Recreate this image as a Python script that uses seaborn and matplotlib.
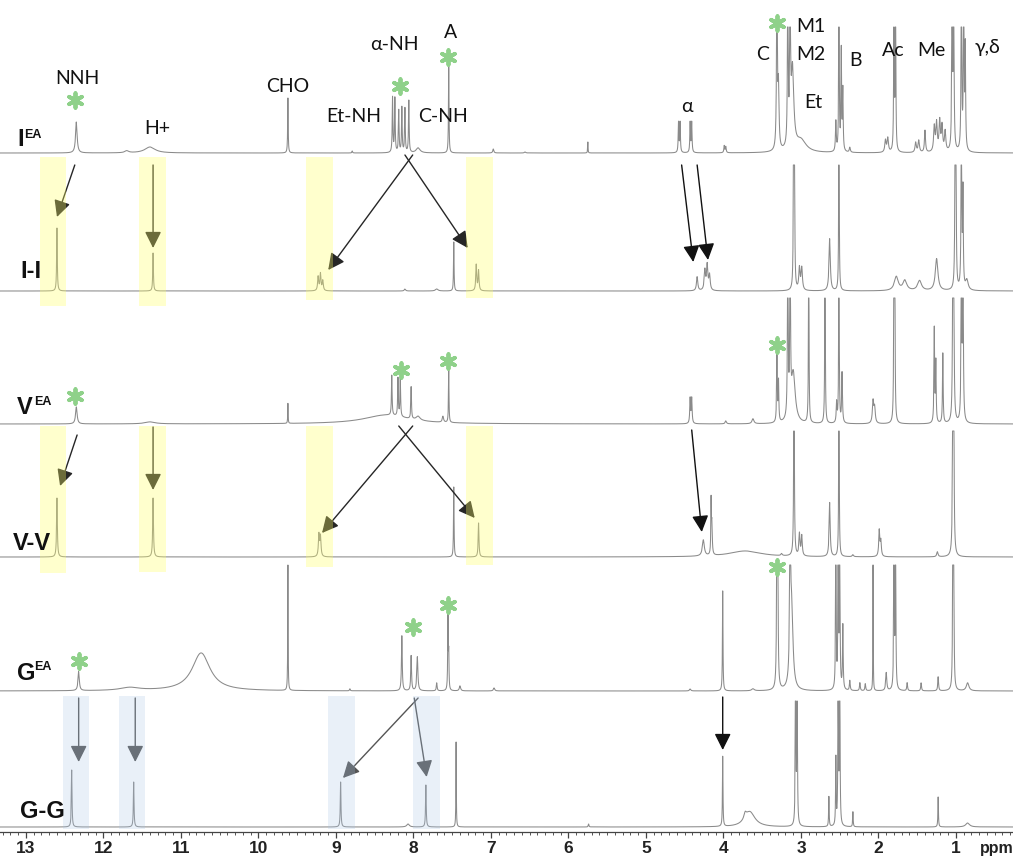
import numpy as np
import pandas as pd
import matplotlib
matplotlib.use("Agg")
import matplotlib.pyplot as plt
import seaborn as sns
from matplotlib.ticker import MultipleLocator, FormatStrFormatter
from matplotlib.patches import Rectangle
from matplotlib import font_manager

# ------------------------------------------------------------------ data
# peak lists: position (ppm), height (px), half width (ppm)
IEA_ppm = [12.35, 11.70, 11.40, 9.62, 8.79, 8.27, 8.24, 8.19, 8.15, 8.11, 8.06, 7.94, 7.545, 6.97, 6.56,
           5.75, 4.58, 4.56, 4.43, 4.41, 3.99, 3.97, 3.31, 3.29, 3.17, 3.14, 3.11, 3.00, 2.55, 2.51,
           2.48, 2.46, 2.37, 1.91, 1.88, 1.80, 1.78, 1.52, 1.48, 1.40, 1.28, 1.25, 1.21, 1.18, 1.14,
           1.05, 1.03, 0.93, 0.90, 0.88]
IEA_h = [31, 2, 6, 55, 2, 55, 54, 42, 45, 44, 52, 5, 90, 4, 1,
         11, 30, 30, 30, 30, 7, 6, 200, 60, 200, 200, 80, 12, 30, 200,
         100, 60, 5, 12, 14, 200, 200, 10, 12, 22, 25, 28, 30, 25, 20,
         200, 200, 200, 200, 100]
IEA_w = [0.012, 0.03, 0.08, 0.004, 0.005, 0.005, 0.005, 0.005, 0.005, 0.005, 0.005, 0.03, 0.004, 0.008, 0.01,
         0.003, 0.005, 0.005, 0.005, 0.005, 0.006, 0.006, 0.006, 0.008, 0.005, 0.005, 0.02, 0.08, 0.006, 0.004,
         0.005, 0.005, 0.008, 0.01, 0.01, 0.004, 0.004, 0.01, 0.01, 0.008, 0.01, 0.01, 0.01, 0.01, 0.01,
         0.005, 0.005, 0.005, 0.005, 0.005]

II_ppm = [12.60, 11.36, 9.23, 9.20, 9.17, 8.11, 7.70, 7.48, 7.19, 7.16, 4.34, 4.24, 4.21, 4.18, 3.095,
          3.085, 3.02, 2.99, 2.63, 2.51, 1.77, 1.66, 1.47, 1.25, 1.01, 1.00, 0.93, 0.91, 0.86]
II_h = [63, 38, 14, 17, 10, 2, 2, 49, 26, 20, 14, 20, 25, 15, 200,
        200, 22, 22, 52, 200, 14, 10, 10, 32, 200, 100, 200, 95, 10]
II_w = [0.005, 0.005, 0.008, 0.008, 0.008, 0.01, 0.02, 0.004, 0.007, 0.007, 0.01, 0.01, 0.01, 0.01, 0.004,
        0.004, 0.01, 0.01, 0.01, 0.004, 0.03, 0.03, 0.03, 0.02, 0.005, 0.005, 0.005, 0.005, 0.02]

VEA_ppm = [12.35, 11.40, 9.62, 8.35, 8.28, 8.20, 8.17, 8.03, 7.94, 7.62, 7.545, 4.43, 4.41, 3.97, 3.62,
           3.31, 3.29, 3.17, 3.14, 3.10, 2.90, 2.69, 2.54, 2.51, 2.47, 2.07, 2.05, 1.80, 1.79, 1.28,
           1.26, 1.17, 1.04, 1.03, 0.93, 0.91]
VEA_h = [17, 2, 20, 9, 40, 38, 38, 32, 4, 6, 52, 25, 25, 3, 5,
         70, 40, 200, 200, 50, 200, 200, 20, 200, 50, 22, 15, 200, 200, 94,
         60, 70, 200, 200, 200, 200]
VEA_w = [0.012, 0.08, 0.003, 0.35, 0.005, 0.005, 0.005, 0.005, 0.03, 0.01, 0.004, 0.006, 0.006, 0.01, 0.015,
         0.005, 0.005, 0.005, 0.005, 0.03, 0.004, 0.004, 0.006, 0.004, 0.006, 0.01, 0.01, 0.004, 0.004, 0.005,
         0.005, 0.005, 0.005, 0.005, 0.005, 0.005]

VV_ppm = [12.60, 11.36, 9.22, 9.20, 7.48, 7.16, 4.26, 4.16, 4.15, 3.72, 3.25, 3.09, 3.02, 2.99, 2.63,
          2.51, 2.33, 1.99, 1.97, 1.24, 1.04, 1.03]
VV_h = [59, 59, 22, 20, 70, 34, 16, 52, 30, 6, 2, 200, 22, 20, 54,
        200, 2, 26, 15, 5, 200, 200]
VV_w = [0.006, 0.006, 0.008, 0.008, 0.004, 0.006, 0.015, 0.004, 0.006, 0.25, 0.01, 0.005, 0.008, 0.008, 0.008,
        0.004, 0.01, 0.008, 0.008, 0.01, 0.005, 0.005]

GEA_ppm = [12.32, 11.66, 10.74, 9.62, 8.82, 8.15, 8.03, 7.95, 7.70, 7.555, 7.545, 7.40, 6.96, 4.43, 4.01,
           3.62, 3.31, 3.30, 3.14, 3.12, 2.55, 2.52, 2.50, 2.46, 2.37, 2.24, 2.17, 2.07, 1.90, 1.80,
           1.78, 1.63, 1.45, 1.23, 1.04, 1.03, 0.85]
GEA_h = [19, 3, 38, 128, 2, 55, 35, 34, 8, 76, 34, 5, 3, 2, 100,
         2, 200, 150, 200, 80, 200, 200, 200, 64, 10, 8, 7, 200, 18, 200,
         200, 8, 8, 14, 200, 200, 8]
GEA_w = [0.01, 0.15, 0.14, 0.003, 0.005, 0.006, 0.006, 0.008, 0.006, 0.004, 0.004, 0.01, 0.01, 0.01, 0.004,
         0.02, 0.005, 0.005, 0.006, 0.02, 0.004, 0.004, 0.004, 0.005, 0.006, 0.006, 0.006, 0.002, 0.008, 0.004,
         0.004, 0.006, 0.006, 0.006, 0.004, 0.004, 0.02]

GG_ppm = [12.41, 11.61, 8.94, 8.07, 7.84, 7.45, 5.74, 4.01, 3.72, 3.66, 3.07, 3.05, 2.64, 2.55, 2.52,
          2.50, 2.33, 1.23, 0.85]
GG_h = [57, 45, 45, 3, 42, 85, 3, 70, 6, 15, 200, 200, 30, 67, 200,
        200, 15, 30, 4]
GG_w = [0.005, 0.005, 0.005, 0.02, 0.005, 0.003, 0.005, 0.004, 0.02, 0.08, 0.004, 0.004, 0.004, 0.004, 0.004,
        0.004, 0.004, 0.004, 0.03]

spectrum_names = ["IEA", "I-I", "VEA", "V-V", "GEA", "G-G"]
peak_tables = {
    "IEA": (IEA_ppm, IEA_h, IEA_w),
    "I-I": (II_ppm, II_h, II_w),
    "VEA": (VEA_ppm, VEA_h, VEA_w),
    "V-V": (VV_ppm, VV_h, VV_w),
    "GEA": (GEA_ppm, GEA_h, GEA_w),
    "G-G": (GG_ppm, GG_h, GG_w),
}
row_labels = [("I", "EA"), ("I-I", ""), ("V", "EA"), ("V-V", ""), ("G", "EA"), ("G-G", "")]

# ------------------------------------------------------------------ layout
W, H = 1013, 856
AXIS_Y = 832                      # pixel row of the ppm axis
baselines = [153, 291, 424, 557, 691, 827]
CLIP = 126                         # vertical cut of every trace
X_LEFT, X_RIGHT = 13.335, 0.2645

sns.set_theme(style="white")
avail = {f.name for f in font_manager.fontManager.ttflist}
label_font = ["Lato", "DejaVu Sans"] if "Lato" in avail else ["Open Sans", "DejaVu Sans"]
tick_font = "Liberation Sans Narrow" if "Liberation Sans Narrow" in avail else "Liberation Sans"
plt.rcParams["font.family"] = label_font

fig = plt.figure(figsize=(W / 100, H / 100), dpi=100)
ax = fig.add_axes([0, (H - AXIS_Y) / H, 1, AXIS_Y / H])

grid = np.arange(X_RIGHT, X_LEFT, 0.0005)
frames = []
for name, base in zip(spectrum_names, baselines):
    p, h, w = (np.asarray(a, float) for a in peak_tables[name])
    inten = (h[None, :] / (1 + ((grid[:, None] - p[None, :]) / w[None, :]) ** 2)).sum(axis=1)
    inten = np.minimum(inten, CLIP)
    frames.append(pd.DataFrame({"ppm": grid, "y": base - inten, "spectrum": name}))
df = pd.concat(frames, ignore_index=True)

sns.lineplot(data=df, x="ppm", y="y", units="spectrum", estimator=None, sort=False,
             color="#8a8a8a", linewidth=0.75, ax=ax, legend=False, zorder=2)

ax.set_xlim(X_LEFT, X_RIGHT)
ax.set_ylim(AXIS_Y, 0)
ax.set_xlabel("")
ax.set_ylabel("")
ax.set_yticks([])
for s in ("top", "left", "right"):
    ax.spines[s].set_visible(False)
ax.spines["bottom"].set_color("#444444")
ax.spines["bottom"].set_linewidth(0.9)
ax.xaxis.set_major_locator(MultipleLocator(1))
ax.xaxis.set_minor_locator(MultipleLocator(0.1))
ax.xaxis.set_major_formatter(FormatStrFormatter("%d"))
ax.tick_params(axis="x", which="major", direction="out", length=4, width=0.9, color="#444444",
               pad=2.5, labelsize=12.5, labelcolor="#222222", bottom=True)
ax.tick_params(axis="x", which="minor", direction="out", length=2.2, width=0.7, color="#555555", bottom=True)
for lab in ax.get_xticklabels():
    lab.set_fontfamily(tick_font)
    lab.set_fontweight("bold")
ax.text(0.69, 849, "ppm", fontsize=11.5, fontfamily=tick_font, fontweight="bold", color="#222222",
        ha="left", va="center", clip_on=False)

# ------------------------------------------------------------------ arrows
def arrow(x0, y0, x1, y1, color):
    ax.annotate("", xy=(x1, y1), xytext=(x0, y0),
                arrowprops=dict(arrowstyle="-|>,head_length=0.5,head_width=0.25", mutation_scale=20,
                                color=color, lw=1.0, shrinkA=0, shrinkB=0), zorder=3)

dark = "#262626"
for a in [(12.37, 165, 12.60, 217), (11.36, 165, 11.36, 248), (8.01, 155, 9.10, 270), (8.11, 155, 7.30, 248),
          (12.34, 435, 12.56, 486), (11.36, 427, 11.36, 490), (8.01, 426, 9.18, 533), (8.19, 426, 7.21, 518)]:
    arrow(*a, dark)
for a in [(4.54, 165, 4.39, 262), (4.34, 165, 4.20, 260), (4.41, 430, 4.28, 532), (4.01, 697, 4.01, 750)]:
    arrow(*a, "#111111")
for a in [(12.32, 698, 12.32, 762), (11.59, 698, 11.59, 762), (7.94, 698, 8.91, 778), (7.99, 698, 7.83, 777)]:
    arrow(*a, "#555555")

# ------------------------------------------------------------------ highlight boxes
yellow_spans = [(12.82, 12.48), (11.54, 11.19), (9.39, 9.04), (7.32, 6.97)]
for (lo, hi), b1, b2 in zip(yellow_spans, [306, 306, 300, 298], [573, 572, 567, 565]):
    for top, bot in ((157, b1), (426, b2)):
        ax.add_patch(Rectangle((lo, top), hi - lo, bot - top, facecolor="#FFFF66", alpha=0.32,
                               edgecolor="none", zorder=4))
blue_spans = [(12.52, 12.19), (11.80, 11.46), (9.10, 8.75), (8.01, 7.66)]
for lo, hi in blue_spans:
    ax.add_patch(Rectangle((lo, 696), hi - lo, 133, facecolor="#A8C4E4", alpha=0.25,
                           edgecolor="none", zorder=4))

# ------------------------------------------------------------------ asterisks
stars = [(12.37, 100), (8.17, 86), (7.55, 57), (3.31, 23),
         (12.37, 396), (8.16, 370), (7.55, 361), (3.31, 345),
         (12.32, 661), (8.01, 627), (7.55, 605), (3.31, 567)]
ax.scatter([s[0] for s in stars], [s[1] for s in stars], marker=(6, 2, 0), s=110,
           color="#8FD18A", linewidths=2.8, zorder=5)

# ------------------------------------------------------------------ peak labels
peak_labels = [("NNH", 12.342, 78), ("H+", 11.31, 128), ("CHO", 9.619, 86), ("Et-NH", 8.768, 117),
               ("α-NH", 8.252, 44), ("A", 7.516, 32), ("C-NH", 7.619, 117), ("α", 4.471, 107),
               ("C", 3.49, 55), ("M1", 2.871, 26), ("M2", 2.871, 54), ("Et", 2.845, 103),
               ("B", 2.303, 60), ("Ac", 1.813, 50), ("Me", 1.323, 50), ("γ,δ", 0.587, 48)]
for txt, x, y in peak_labels:
    ax.text(x, y, txt, fontsize=14, color="#111111", ha="center", va="center", zorder=6)

# ------------------------------------------------------------------ row labels
row_pos = [(13.116, 140, 13.02, 135), (13.077, 272, None, None), (13.116, 408, 12.90, 402),
           (13.168, 543, None, None), (13.116, 673, 12.90, 667), (13.077, 812, None, None)]
for (main, sup), (x, y, xs, ys) in zip(row_labels, row_pos):
    ax.text(x, y, main, fontsize=17, fontweight="bold", fontfamily="Liberation Sans",
            color="#111111", ha="left", va="center", zorder=6)
    if sup:
        ax.text(xs, ys, sup, fontsize=9, fontweight="bold", fontfamily="Liberation Sans",
                color="#111111", ha="left", va="center", zorder=6)

fig.savefig("out.png", dpi=100)
